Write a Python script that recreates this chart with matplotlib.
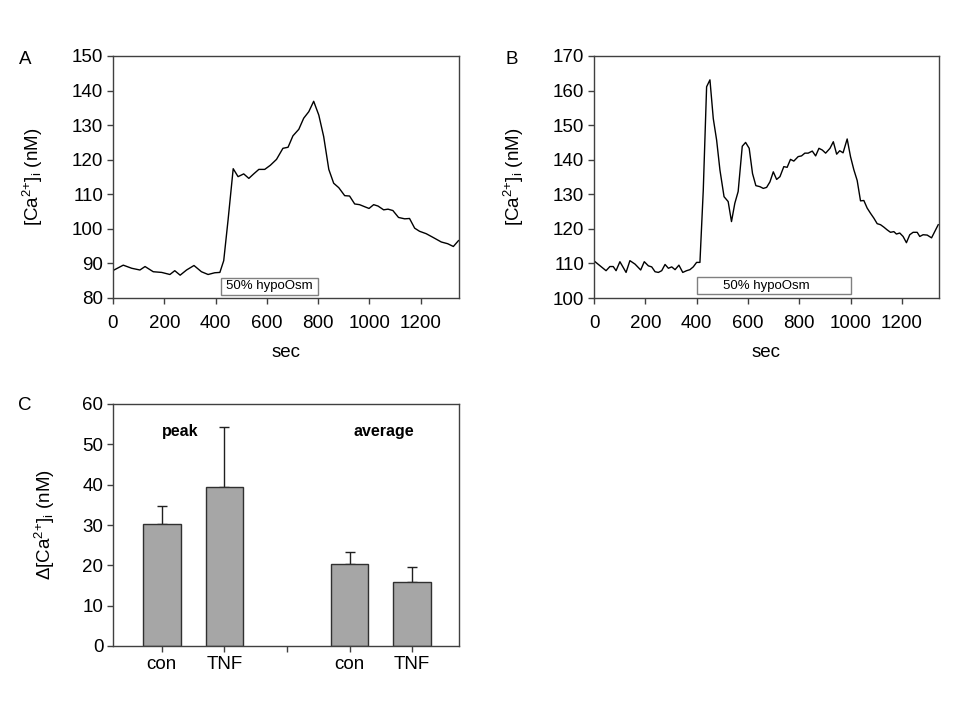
import numpy as np
import matplotlib
matplotlib.use('Agg')
import matplotlib.pyplot as plt
from matplotlib.patches import Rectangle

plt.rcParams['font.family'] = ['Liberation Sans', 'DejaVu Sans']
plt.rcParams['mathtext.fontset'] = 'custom'
plt.rcParams['mathtext.rm'] = 'Liberation Sans'
plt.rcParams['mathtext.it'] = 'Liberation Sans:italic'

# Panel A: [Ca2+]i trace (nM) vs time (sec)
time_a = [4, 40, 73, 105, 125, 157, 190, 222, 241, 262, 287, 316, 345, 371, 397, 417,
          432, 449, 469, 488, 510, 530, 549, 569, 592, 614, 638, 663, 683, 702, 725,
          744, 764, 783, 803, 822, 842, 861, 881, 904, 923, 943, 962, 982, 999, 1017,
          1034, 1056, 1073, 1092, 1114, 1138, 1157, 1177, 1196, 1222, 1247, 1281,
          1306, 1328, 1348]
ca_a = [88.1, 89.5, 88.6, 88.1, 89.1, 87.6, 87.4, 86.8, 87.9, 86.6, 88.1, 89.4, 87.6,
        86.8, 87.3, 87.4, 90.8, 102.6, 117.4, 115.1, 115.9, 114.6, 115.9, 117.2,
        117.2, 118.4, 120.1, 123.3, 123.6, 126.9, 128.8, 132.0, 133.9, 136.9, 132.9,
        126.7, 117.2, 113.2, 111.9, 109.6, 109.5, 107.2, 107.0, 106.4, 105.9, 107.0,
        106.6, 105.5, 105.7, 105.3, 103.3, 102.9, 103.0, 100.2, 99.3, 98.6, 97.6,
        96.2, 95.7, 94.9, 96.6]

# Panel B
time_b = [4, 47, 62, 75, 86, 101, 125, 140, 160, 182, 196, 212, 225, 238, 251, 264,
          277, 290, 303, 316, 331, 346, 361, 374, 387, 400, 413, 426, 439, 452, 465,
          478, 491, 507, 523, 536, 549, 562, 578, 591, 605, 618, 631, 647, 660, 673,
          686, 699, 712, 725, 740, 753, 766, 779, 796, 809, 822, 835, 851, 864, 877,
          890, 903, 920, 933, 946, 958, 971, 987, 1000, 1013, 1026, 1039, 1052, 1065,
          1078, 1091, 1104, 1117, 1130, 1143, 1156, 1169, 1179, 1192, 1205, 1218,
          1231, 1244, 1260, 1270, 1283, 1299, 1316, 1329, 1342]
ca_b = [110.5, 107.9, 109.1, 109.1, 107.9, 110.5, 107.4, 110.8, 109.8, 108.1, 110.5,
        109.3, 109.0, 107.6, 107.4, 107.9, 109.7, 108.6, 109.0, 108.2, 109.5, 107.4,
        107.9, 108.2, 109.0, 110.3, 110.3, 131.2, 161.1, 163.1, 151.9, 145.7, 137.0,
        129.3, 127.9, 122.1, 127.4, 130.8, 143.9, 145.0, 143.3, 136.0, 132.5, 132.2,
        131.7, 132.0, 133.6, 136.5, 134.3, 135.1, 138.0, 137.8, 140.1, 139.6, 140.9,
        141.1, 141.9, 141.9, 142.5, 141.1, 143.3, 142.8, 141.9, 143.3, 145.2, 141.6,
        142.6, 142.0, 146.0, 140.9, 137.1, 134.0, 128.1, 128.2, 126.0, 124.5, 123.1,
        121.5, 121.2, 120.5, 119.7, 119.0, 119.2, 118.5, 118.8, 117.8, 116.0, 118.3,
        119.0, 119.0, 117.8, 118.3, 118.2, 117.4, 119.3, 121.2]

# Panel C: delta [Ca2+]i
bar_labels = ['con', 'TNF', '', 'con', 'TNF']
bar_pos = [0, 1, 3, 4]
bar_vals = [30.2, 39.5, 20.3, 15.9]
bar_err = [4.4, 14.9, 3.0, 3.8]

spine_col = '#404040'

fig = plt.figure(figsize=(9.6, 7.2), dpi=100)

def style(ax, xpad=3):
    for s in ax.spines.values():
        s.set_color(spine_col)
        s.set_linewidth(1.0)
    ax.tick_params(direction='out', length=4, width=1, color=spine_col,
                   labelsize=13.5, pad=3)
    ax.tick_params(axis='x', pad=xpad)

ca_label = '$\\mathregular{[Ca^{2{+}}]_i}$ (nM)'

# Panel A
axA = fig.add_axes([113/960, 1-298/720, 346/960, 242/720])
axA.plot(time_a, ca_a, color='k', lw=1.0)
axA.set_xlim(0, 1350)
axA.set_ylim(80, 150)
axA.set_xticks(np.arange(0, 1201, 200))
axA.set_yticks(np.arange(80, 151, 10))
axA.add_patch(Rectangle((420, 80.9), 380, 4.9, facecolor='white', edgecolor='#808080', lw=1, zorder=3))
axA.text(610, 83.4, '50% hypoOsm', ha='center', va='center', fontsize=9.5, zorder=4)
axA.set_xlabel('sec', fontsize=13.5, labelpad=9)
axA.set_ylabel(ca_label, fontsize=13.5)
axA.yaxis.set_label_coords(-0.197, 0.5)
style(axA, xpad=8)

# Panel B
axB = fig.add_axes([594/960, 1-298/720, 345/960, 242/720])
axB.plot(time_b, ca_b, color='k', lw=1.0)
axB.set_xlim(0, 1345)
axB.set_ylim(100, 170)
axB.set_xticks(np.arange(0, 1201, 200))
axB.set_yticks(np.arange(100, 171, 10))
axB.add_patch(Rectangle((400, 101.2), 600, 4.9, facecolor='white', edgecolor='#808080', lw=1, zorder=3))
axB.text(670, 103.6, '50% hypoOsm', ha='center', va='center', fontsize=9.5, zorder=4)
axB.set_xlabel('sec', fontsize=13.5, labelpad=9)
axB.set_ylabel(ca_label, fontsize=13.5)
axB.yaxis.set_label_coords(-0.197, 0.5)
style(axB, xpad=8)

# Panel C
axC = fig.add_axes([113/960, 1-646/720, 346/960, 242/720])
axC.bar(bar_pos, bar_vals, width=0.6, color='#a6a6a6', edgecolor='#303030', lw=1, zorder=2)
axC.errorbar(bar_pos, bar_vals, yerr=[[0]*4, bar_err], fmt='none', ecolor='#202020',
             elinewidth=1, capsize=3.5, capthick=1, zorder=1)
axC.set_xlim(-0.78, 4.75)
axC.set_ylim(0, 60)
axC.set_xticks(range(len(bar_labels)))
axC.set_xticklabels(bar_labels)
axC.set_yticks(np.arange(0, 61, 10))
axC.text(0.29, 53.3, 'peak', ha='center', va='center', fontsize=11.5, fontweight='bold')
axC.text(3.55, 53.3, 'average', ha='center', va='center', fontsize=11.5, fontweight='bold')
axC.set_ylabel('$\\Delta$' + ca_label, fontsize=13.5)
axC.yaxis.set_label_coords(-0.162, 0.5)
style(axC)

# panel letters
fig.text(25/960, 1-60/720, 'A', fontsize=13.5, ha='center', va='center')
fig.text(512/960, 1-60/720, 'B', fontsize=13.5, ha='center', va='center')
fig.text(25/960, 1-405/720, 'C', fontsize=13.5, ha='center', va='center')

plt.savefig('out.png', dpi=100)
